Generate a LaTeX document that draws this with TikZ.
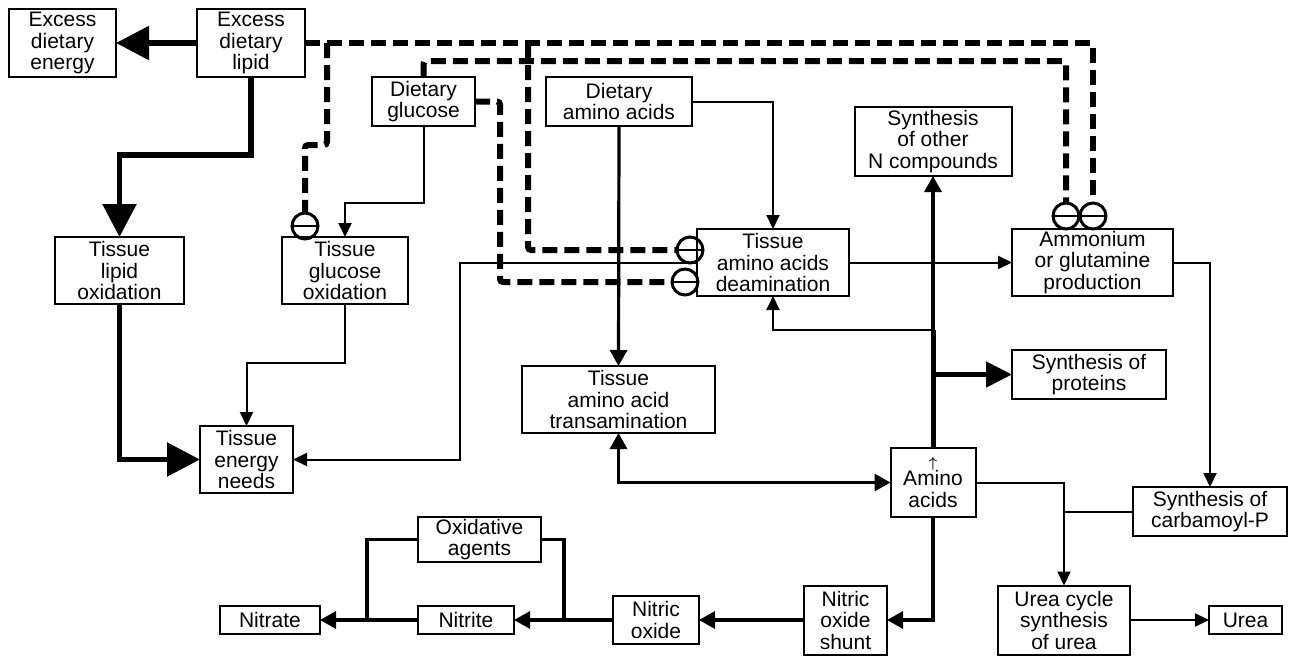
\documentclass[tikz,border=0pt]{standalone}
\usepackage{fontspec}
\setmainfont{Liberation Sans}
\usetikzlibrary{arrows.meta}

\begin{document}
\begin{tikzpicture}[x=1pt, y=-1pt,
    every node/.style={outer sep=0pt},
    stage/.style={draw, line width=2pt, align=center, inner sep=1pt,
        font=\fontsize{21}{21.5}\selectfont},
    flow/.style={line width=2pt, -{Triangle[length=14pt,width=13pt]}},
    midflow/.style={line width=3.2pt, -{Triangle[length=16pt,width=17pt]}},
    bigflow/.style={line width=5.5pt, -{Triangle[length=33pt,width=33pt]}},
    inhline/.style={line width=6pt, dash pattern=on 15pt off 7pt, rounded corners=3pt},
    inhib/.style={circle, draw, line width=3pt, minimum size=26pt, inner sep=0pt,
        path picture={\draw[line width=2.5pt] (path picture bounding box.west) -- (path picture bounding box.east);}}]
    \useasboundingbox (0,0) rectangle (1291,656);
    % top row
    \node[stage, minimum width=107pt, minimum height=68pt] (energy) at (62.5,43) {Excess\\dietary\\energy};
    \node[stage, minimum width=108pt, minimum height=68pt] (lipid) at (251,43) {Excess\\dietary\\lipid};
    \node[stage, minimum width=103pt, minimum height=49pt] (glucose) at (423.5,101.5) {Dietary\\glucose};
    \node[stage, minimum width=146pt, minimum height=49pt] (dietaa) at (619,101.5) {Dietary\\amino acids};
    \node[stage, minimum width=157pt, minimum height=69pt] (ncomp) at (933,141.5) {Synthesis\\of other\\N compounds};
    % tissue row
    \node[stage, minimum width=129pt, minimum height=67pt] (lipidox) at (119.5,270.5) {Tissue\\lipid\\oxidation};
    \node[stage, minimum width=126pt, minimum height=67pt] (glucox) at (345,270.5) {Tissue\\glucose\\oxidation};
    \node[stage, minimum width=152pt, minimum height=67pt] (deamin) at (773,262.5) {Tissue\\amino acids\\deamination};
    \node[stage, minimum width=161pt, minimum height=67pt] (ammon) at (1092.5,262.5) {Ammonium\\or glutamine\\production};
    \node[stage, minimum width=154pt, minimum height=49pt] (proteins) at (1089,374.5) {Synthesis of\\proteins};
    \node[stage, minimum width=193pt, minimum height=67pt] (transam) at (618.5,399.5) {Tissue\\amino acid\\transamination};
    \node[stage, minimum width=93pt, minimum height=67pt] (energyneeds) at (246.5,459.5) {Tissue\\energy\\needs};
    \node[stage, minimum width=85pt, minimum height=69pt] (amino) at (933,482.5) {{\fontsize{14}{14}\selectfont\boldmath$\uparrow$}\\[-3pt]Amino\\acids};
    \node[stage, minimum width=154pt, minimum height=49pt] (carbamoyl) at (1210,511.5) {Synthesis of\\carbamoyl-P};
    % bottom row
    \node[stage, minimum width=123pt, minimum height=45pt] (oxid) at (479.5,539.5) {Oxidative\\agents};
    \node[stage, minimum width=100pt, minimum height=28pt] (nitrate) at (270,620) {Nitrate};
    \node[stage, minimum width=96pt, minimum height=28pt] (nitrite) at (466,620) {Nitrite};
    \node[stage, minimum width=86pt, minimum height=48pt] (nitricox) at (656,620) {Nitric\\oxide};
    \node[stage, minimum width=83pt, minimum height=69pt] (shunt) at (845.5,620) {Nitric\\oxide\\shunt};
    \node[stage, minimum width=132pt, minimum height=69pt] (ureacyc) at (1064,620) {Urea cycle\\synthesis\\of urea};
    \node[stage, minimum width=73pt, minimum height=28pt] (urea) at (1245.5,620) {Urea};
    % lipid
    \draw[bigflow] (lipid.west) -- (energy.east);
    \draw[bigflow] (lipid.south) -- ++(0,78) -| (lipidox.north);
    \draw[bigflow] (lipidox.south) |- (energyneeds.west);
    % glucose
    \draw[flow] (glucose.south) -- ++(0,77) -| (glucox.north);
    \draw[flow] (glucox.south) -- ++(0,59) -| (energyneeds.north);
    \draw[flow] (deamin.west) -- ++(-237,0) |- (energyneeds.east);
    % dietary amino acids
    \draw[midflow] (dietaa.south) -- (transam.north);
    \draw[flow] (dietaa.east) -| (deamin.north);
    \draw[flow] (deamin.east) -- (ammon.west);
    \draw[flow] (ammon.east) -| (carbamoyl.north);
    % amino acid pool
    \draw[midflow, {Triangle[length=16pt,width=17pt]}-{Triangle[length=16pt,width=17pt]}] (transam.south) |- (amino.west);
    \draw[midflow] (amino.north) -- (amino.north |- ncomp.south);
    \draw[line width=5pt] (amino.north) -- ++(0,-118);
    \draw[bigflow, line width=5pt, -{Triangle[length=26pt,width=25pt]}] (amino.north |- proteins.west) -- (proteins.west);
    \draw[flow] (amino.north |- 0,330) -| (deamin.south);
    \draw[flow] (amino.east) -| (ureacyc.north);
    \draw[line width=2pt] (carbamoyl.west) -- (carbamoyl.west -| ureacyc.north);
    \draw[flow] (ureacyc.east) -- (urea.west);
    % nitric oxide
    \draw[midflow] (amino.south) |- (shunt.east);
    \draw[midflow] (shunt.west) -- (nitricox.east);
    \draw[midflow] (nitricox.west) -- (nitrite.east);
    \draw[midflow] (nitrite.west) -- (nitrate.east);
    \draw[line width=3.2pt, shorten >=20pt] (oxid.east) -- ++(23,0) |- (nitrite.east);
    \draw[line width=3.2pt, shorten >=20pt] (oxid.west) -- ++(-51,0) |- (nitrate.east);
    % inhibition
    \node[inhib] (i1) at (305,226) {};
    \node[inhib] (i2) at (690,250) {};
    \node[inhib] (i5) at (685,282) {};
    \node[inhib] (i3) at (1066,216) {};
    \node[inhib] (i4) at (1093,216) {};
    \coordinate (j1) at (327,43);
    \coordinate (j2) at (528,43);
    \draw[inhline] (lipid.east) -| (i4);
    \draw[inhline] (j1) -- ++(0,102) -| (i1);
    \draw[inhline] (j2) |- (i2);
    \draw[inhline] (glucose.north) -- ++(0,-16) -| (i3);
    \draw[inhline] (glucose.east) -- ++(25,0) |- (i5);
\end{tikzpicture}
\end{document}
